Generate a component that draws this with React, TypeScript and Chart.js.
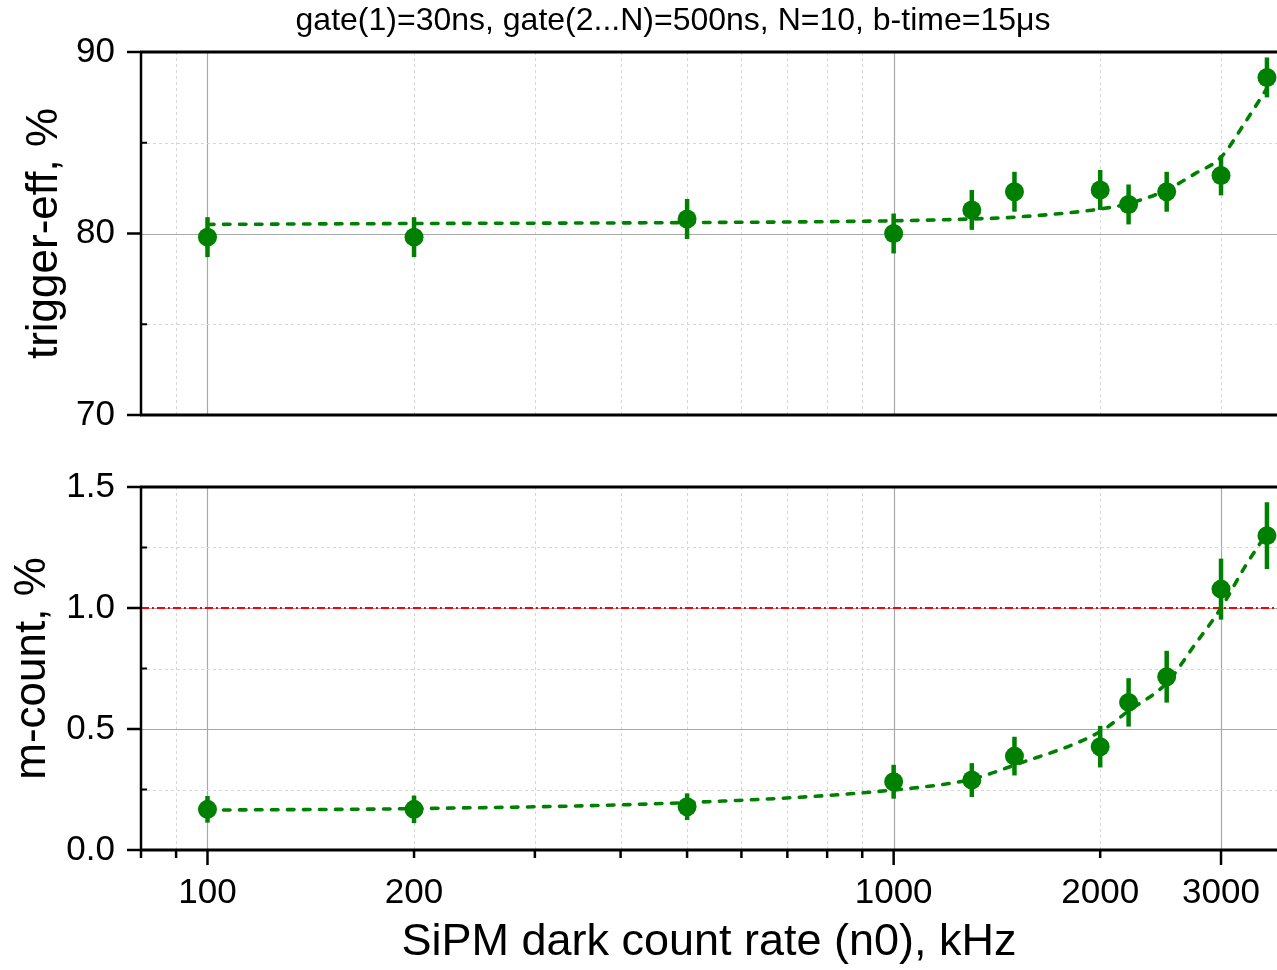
import React, { useEffect, useRef } from 'react';
import { Chart, registerables } from 'chart.js';
Chart.register(...registerables);

const FONT = "'Liberation Sans', Arial, sans-serif";
const TITLE = 'gate(1)=30ns, gate(2...N)=500ns, N=10, b-time=15μs';
const X_TITLE = 'SiPM dark count rate (n0), kHz';
const TOP_Y_TITLE = 'trigger-eff, %';
const BOTTOM_Y_TITLE = 'm-count, %';

const RATE = [100, 200, 500, 1000, 1300, 1500, 2000, 2200, 2500, 3000, 3500];
const TRIG_EFF = [79.8, 79.8, 80.8, 80.0, 81.3, 82.3, 82.4, 81.6, 82.3, 83.2, 88.6];
const TRIG_ERR = [1.1, 1.1, 1.1, 1.1, 1.1, 1.1, 1.1, 1.1, 1.1, 1.1, 1.1];
const MCOUNT = [0.168, 0.168, 0.179, 0.282, 0.289, 0.388, 0.427, 0.61, 0.716, 1.078, 1.299];
const MCOUNT_ERR = [0.055, 0.057, 0.055, 0.07, 0.07, 0.08, 0.086, 0.1, 0.107, 0.126, 0.138];

const FIT_RATE = [100, 200, 500, 1000, 1300, 1500, 2000, 2200, 2500, 2750, 3000, 3250, 3500];
const TRIG_FIT = [80.5, 80.55, 80.6, 80.7, 80.8, 80.9, 81.35, 81.65, 82.4, 83.3, 84.2, 86.1, 88.0];
const MCOUNT_FIT = [0.165, 0.171, 0.196, 0.248, 0.293, 0.351, 0.489, 0.575, 0.69, 0.85, 1.0, 1.17, 1.31];

const LIMIT_LINE = 1.0;

const X_MIN = 80;
const X_MAX = 3620;
const X_TICKS = [80, 90, 100, 200, 300, 400, 500, 600, 700, 800, 900, 1000, 2000, 3000];
const X_LABELS = [100, 200, 1000, 2000, 3000];
const X_MAJOR_GRID = [100, 1000];

const TOP_Y_TICKS = [70, 75, 80, 85, 90];
const TOP_Y_LABELS = [70, 80, 90];
const BOTTOM_Y_TICKS = [0, 0.25, 0.5, 0.75, 1.0, 1.25, 1.5];
const BOTTOM_Y_LABELS = [0, 0.5, 1.0, 1.5];

const GREEN = '#008000';

type Panel = {
  bottom: boolean;
  yMin: number;
  yMax: number;
  yTicks: number[];
  yLabels: number[];
  yMajorGrid: number[];
  yTitle: string;
  yTitlePad: number;
  values: number[];
  errors: number[];
  fit: number[];
  fmt: (v: number) => string;
  xSolidGrid: number[];
  xLongTicks: number[];
};

function makePlugin(p: Panel) {
  return {
    id: 'panelDecor',
    beforeDatasetsDraw(chart: any) {
      const { ctx, chartArea: a, scales } = chart;
      const xs = scales.x;
      const ys = scales.y;
      ctx.save();
      const vline = (v: number, solid: boolean) => {
        const px = Math.round(xs.getPixelForValue(v)) + 0.5;
        ctx.beginPath();
        ctx.setLineDash(solid ? [] : [3, 3]);
        ctx.strokeStyle = solid ? '#a8a8a8' : '#d6d6d6';
        ctx.lineWidth = solid ? 1.2 : 1;
        ctx.moveTo(px, a.top);
        ctx.lineTo(px, a.bottom);
        ctx.stroke();
      };
      const hline = (v: number, solid: boolean) => {
        const py = Math.round(ys.getPixelForValue(v)) + 0.5;
        ctx.beginPath();
        ctx.setLineDash(solid ? [] : [3, 3]);
        ctx.strokeStyle = solid ? '#a8a8a8' : '#d6d6d6';
        ctx.lineWidth = solid ? 1.2 : 1;
        ctx.moveTo(a.left, py);
        ctx.lineTo(a.right, py);
        ctx.stroke();
      };
      X_TICKS.forEach((v) => {
        if (v <= X_MIN) return;
        const solid = X_MAJOR_GRID.includes(v) || p.xSolidGrid.includes(v);
        vline(v, solid);
      });
      p.yTicks.forEach((v) => {
        if (v <= p.yMin || v >= p.yMax) return;
        hline(v, p.yMajorGrid.includes(v));
      });
      ctx.setLineDash([]);
      ctx.strokeStyle = GREEN;
      ctx.lineWidth = 4.5;
      RATE.forEach((r, i) => {
        const px = xs.getPixelForValue(r);
        const y1 = ys.getPixelForValue(p.values[i] - p.errors[i]);
        const y2 = ys.getPixelForValue(p.values[i] + p.errors[i]);
        ctx.beginPath();
        ctx.moveTo(px, y1);
        ctx.lineTo(px, y2);
        ctx.stroke();
      });
      ctx.restore();
    },
    afterDraw(chart: any) {
      const { ctx, chartArea: a, scales } = chart;
      const xs = scales.x;
      const ys = scales.y;
      ctx.save();
      ctx.setLineDash([]);
      ctx.strokeStyle = '#000';
      p.yTicks.forEach((v) => {
        const py = ys.getPixelForValue(v);
        ctx.beginPath();
        if (p.yLabels.includes(v)) {
          ctx.lineWidth = 2.5;
          ctx.moveTo(a.left - 14, py);
          ctx.lineTo(a.left, py);
        } else {
          ctx.lineWidth = 2;
          ctx.moveTo(a.left, py);
          ctx.lineTo(a.left + 6, py);
        }
        ctx.stroke();
      });
      if (p.bottom) {
        X_TICKS.forEach((v) => {
          const px = xs.getPixelForValue(v);
          const long = X_MAJOR_GRID.includes(v) || p.xLongTicks.includes(v);
          ctx.beginPath();
          ctx.lineWidth = 2.5;
          ctx.moveTo(px, a.bottom);
          ctx.lineTo(px, a.bottom + (long ? 15 : 8));
          ctx.stroke();
        });
      }
      ctx.lineWidth = 2.5;
      ctx.beginPath();
      ctx.moveTo(a.left, a.top);
      ctx.lineTo(a.left, a.bottom);
      ctx.stroke();
      ctx.lineWidth = 3;
      ctx.beginPath();
      ctx.moveTo(a.left - 1, a.top);
      ctx.lineTo(a.right, a.top);
      ctx.moveTo(a.left - 1, a.bottom);
      ctx.lineTo(a.right, a.bottom);
      ctx.stroke();
      if (!p.bottom) {
        ctx.fillStyle = '#000';
        ctx.font = `32px ${FONT}`;
        ctx.textAlign = 'center';
        ctx.textBaseline = 'middle';
        ctx.fillText(TITLE, 673, 21);
      }
      ctx.restore();
    },
  };
}

function makeConfig(p: Panel): any {
  const datasets: any[] = [
    {
      type: 'line',
      data: FIT_RATE.map((x, i) => ({ x, y: p.fit[i] })),
      borderColor: GREEN,
      borderWidth: 3.6,
      borderDash: [6.5, 9.5],
      borderCapStyle: 'round',
      pointRadius: 0,
      cubicInterpolationMode: 'monotone',
      fill: false,
    },
    {
      type: 'line',
      showLine: false,
      data: RATE.map((x, i) => ({ x, y: p.values[i] })),
      backgroundColor: GREEN,
      borderColor: GREEN,
      pointRadius: 9.5,
      pointBorderWidth: 0,
    },
  ];
  if (p.bottom) {
    datasets.push({
      type: 'line',
      data: [
        { x: X_MIN, y: LIMIT_LINE },
        { x: X_MAX, y: LIMIT_LINE },
      ],
      borderColor: '#ff0000',
      borderWidth: 1.8,
      borderDash: [8, 3, 2, 3],
      pointRadius: 0,
      fill: false,
    });
  }
  return {
    type: 'line',
    data: { datasets },
    plugins: [makePlugin(p)],
    options: {
      responsive: false,
      devicePixelRatio: 1,
      animation: false,
      layout: { autoPadding: false, padding: { top: p.bottom ? 47 : 52, left: 0, right: 0, bottom: 0 } },
      plugins: { legend: { display: false }, tooltip: { enabled: false }, title: { display: false } },
      scales: {
        x: {
          type: 'logarithmic',
          min: X_MIN,
          max: X_MAX,
          afterBuildTicks: (s: any) => {
            s.ticks = X_TICKS.map((v) => ({ value: v }));
          },
          afterFit: (s: any) => {
            s.height = p.bottom ? 120 : 25;
            s.paddingLeft = 0;
            s.paddingRight = 0;
          },
          grid: { display: false, drawTicks: false },
          border: { display: false },
          ticks: {
            display: p.bottom,
            autoSkip: false,
            maxRotation: 0,
            minRotation: 0,
            padding: 22,
            color: '#000',
            font: { family: FONT, size: 35 },
            callback: (v: number) => (X_LABELS.includes(v) ? String(v) : ''),
          },
          title: {
            display: p.bottom,
            text: X_TITLE,
            color: '#000',
            font: { family: FONT, size: 45, lineHeight: 1.2 },
            padding: { top: 0, bottom: 0 },
          },
        },
        y: {
          type: 'linear',
          min: p.yMin,
          max: p.yMax,
          afterBuildTicks: (s: any) => {
            s.ticks = p.yTicks.map((v) => ({ value: v }));
          },
          afterFit: (s: any) => {
            s.width = 141;
            s.paddingTop = 0;
            s.paddingBottom = 0;
          },
          grid: { display: false, drawTicks: false },
          border: { display: false },
          ticks: {
            padding: 26,
            color: '#000',
            font: { family: FONT, size: 35 },
            callback: (v: number) => (p.yLabels.includes(v) ? p.fmt(v) : ''),
          },
          title: {
            display: true,
            text: p.yTitle,
            color: '#000',
            font: { family: FONT, size: 44, lineHeight: 1.2 },
            padding: { top: p.yTitlePad, bottom: 0 },
          },
        },
      },
    },
  };
}

const TOP_PANEL: Panel = {
  bottom: false,
  yMin: 70,
  yMax: 90,
  yTicks: TOP_Y_TICKS,
  yLabels: TOP_Y_LABELS,
  yMajorGrid: [80],
  yTitle: TOP_Y_TITLE,
  yTitlePad: 18,
  values: TRIG_EFF,
  errors: TRIG_ERR,
  fit: TRIG_FIT,
  fmt: (v) => String(v),
  xSolidGrid: [],
  xLongTicks: [],
};

const BOTTOM_PANEL: Panel = {
  bottom: true,
  yMin: 0,
  yMax: 1.5,
  yTicks: BOTTOM_Y_TICKS,
  yLabels: BOTTOM_Y_LABELS,
  yMajorGrid: [0.5, 1.0],
  yTitle: BOTTOM_Y_TITLE,
  yTitlePad: 6,
  values: MCOUNT,
  errors: MCOUNT_ERR,
  fit: MCOUNT_FIT,
  fmt: (v) => v.toFixed(1),
  xSolidGrid: [3000],
  xLongTicks: [3000],
};

function PanelChart({ panel, top, height }: { panel: Panel; top: number; height: number }) {
  const ref = useRef<HTMLCanvasElement | null>(null);
  useEffect(() => {
    if (!ref.current) return;
    const chart = new Chart(ref.current, makeConfig(panel));
    return () => chart.destroy();
  }, [panel]);
  return (
    <canvas
      ref={ref}
      width={1277}
      height={height}
      style={{ position: 'absolute', left: 0, top, width: 1277, height, display: 'block' }}
    />
  );
}

export default function App() {
  return (
    <div style={{ position: 'absolute', left: 0, top: 0, width: 1277, height: 970, background: '#fff', overflow: 'hidden' }}>
      <PanelChart panel={TOP_PANEL} top={0} height={440} />
      <PanelChart panel={BOTTOM_PANEL} top={440} height={530} />
    </div>
  );
}
